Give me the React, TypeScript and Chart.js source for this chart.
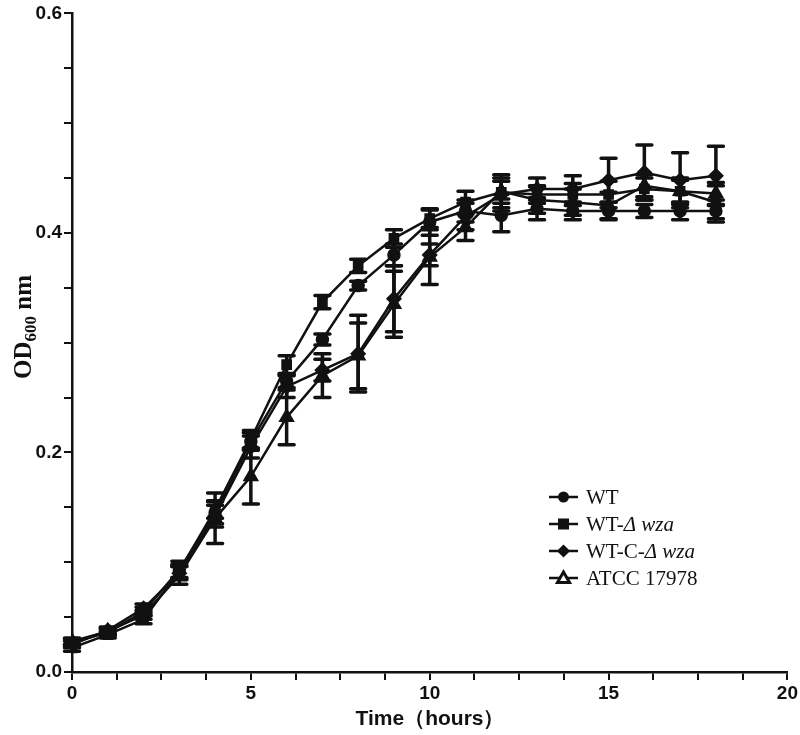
import React, { useEffect, useRef } from "react";
import { Chart, registerables } from "chart.js";

Chart.register(...registerables);

const hours = [0, 1, 2, 3, 4, 5, 6, 7, 8, 9, 10, 11, 12, 13, 14, 15, 16, 17, 18];

const wtValues = [0.027, 0.036, 0.055, 0.093, 0.145, 0.21, 0.265, 0.303, 0.352, 0.38, 0.41, 0.42, 0.416, 0.422, 0.42, 0.42, 0.42, 0.42, 0.42];
const wtErrors = [0.003, 0.003, 0.004, 0.008, 0.01, 0.008, 0.006, 0.005, 0.004, 0.01, 0.012, 0.01, 0.015, 0.01, 0.008, 0.008, 0.006, 0.008, 0.01];

const wzaValues = [0.022, 0.034, 0.048, 0.092, 0.148, 0.212, 0.28, 0.337, 0.37, 0.395, 0.413, 0.428, 0.437, 0.435, 0.435, 0.435, 0.44, 0.438, 0.428];
const wzaErrors = [0.003, 0.003, 0.004, 0.006, 0.008, 0.008, 0.008, 0.006, 0.006, 0.008, 0.008, 0.01, 0.01, 0.008, 0.01, 0.012, 0.01, 0.012, 0.015];

const compValues = [0.025, 0.038, 0.058, 0.09, 0.142, 0.205, 0.26, 0.275, 0.29, 0.34, 0.38, 0.415, 0.435, 0.44, 0.44, 0.448, 0.455, 0.448, 0.452];
const compErrors = [0.003, 0.003, 0.004, 0.006, 0.01, 0.01, 0.01, 0.01, 0.035, 0.03, 0.01, 0.012, 0.015, 0.01, 0.012, 0.02, 0.025, 0.025, 0.027];

const atccValues = [0.028, 0.037, 0.052, 0.088, 0.14, 0.178, 0.232, 0.27, 0.288, 0.335, 0.378, 0.405, 0.438, 0.43, 0.428, 0.425, 0.443, 0.438, 0.436];
const atccErrors = [0.003, 0.003, 0.004, 0.008, 0.023, 0.025, 0.025, 0.02, 0.03, 0.03, 0.025, 0.012, 0.015, 0.012, 0.012, 0.012, 0.01, 0.01, 0.01];

const seriesNames = ["WT", "WT-Δ wza", "WT-C-Δ wza", "ATCC 17978"];
const seriesStyles = ["circle", "rect", "rectRot", "triangle"];

const xTickLabels = [0, 5, 10, 15, 20];
const yTickLabels = [0.0, 0.2, 0.4, 0.6];

const INK = "#111111";
const SANS = "'Liberation Sans Narrow', 'Liberation Sans', Arial, sans-serif";
const SERIF = "'Liberation Serif', 'Times New Roman', serif";

function drawMarker(ctx: CanvasRenderingContext2D, style: string, x: number, y: number, r: number) {
  ctx.save();
  ctx.fillStyle = INK;
  ctx.strokeStyle = INK;
  ctx.lineWidth = 2;
  ctx.beginPath();
  if (style === "circle") {
    ctx.arc(x, y, r, 0, Math.PI * 2);
    ctx.fill();
  } else if (style === "rect") {
    ctx.rect(x - r, y - r, 2 * r, 2 * r);
    ctx.fill();
  } else if (style === "rectRot") {
    ctx.moveTo(x, y - r * 1.2);
    ctx.lineTo(x + r * 1.2, y);
    ctx.lineTo(x, y + r * 1.2);
    ctx.lineTo(x - r * 1.2, y);
    ctx.closePath();
    ctx.fill();
  } else {
    ctx.moveTo(x, y - r * 1.1);
    ctx.lineTo(x + r * 1.1, y + r * 0.8);
    ctx.lineTo(x - r * 1.1, y + r * 0.8);
    ctx.closePath();
    ctx.fillStyle = "#ffffff";
    ctx.fill();
    ctx.lineWidth = 3;
    ctx.stroke();
  }
  ctx.restore();
}

const errorBarPlugin = {
  id: "errorBars",
  beforeDatasetsDraw(chart: any) {
    const ctx = chart.ctx as CanvasRenderingContext2D;
    const xs = chart.scales.x;
    const ys = chart.scales.y;
    const allErr = [wtErrors, wzaErrors, compErrors, atccErrors];
    const allVal = [wtValues, wzaValues, compValues, atccValues];
    ctx.save();
    ctx.strokeStyle = INK;
    ctx.lineWidth = 3.5;
    ctx.lineCap = "round";
    allVal.forEach((vals, si) => {
      vals.forEach((v, i) => {
        const e = allErr[si][i];
        const px = xs.getPixelForValue(hours[i]);
        const top = ys.getPixelForValue(v + e);
        const bot = ys.getPixelForValue(v - e);
        ctx.beginPath();
        ctx.moveTo(px, top);
        ctx.lineTo(px, bot);
        ctx.moveTo(px - 7.5, top);
        ctx.lineTo(px + 7.5, top);
        ctx.moveTo(px - 7.5, bot);
        ctx.lineTo(px + 7.5, bot);
        ctx.stroke();
      });
    });
    ctx.restore();
  },
};

const annotationPlugin = {
  id: "annotations",
  afterDraw(chart: any) {
    const ctx = chart.ctx as CanvasRenderingContext2D;
    ctx.save();
    // Y axis title with subscript
    ctx.translate(22, 327);
    ctx.rotate(-Math.PI / 2);
    ctx.fillStyle = INK;
    ctx.textBaseline = "alphabetic";
    const big = `bold 25px ${SERIF}`;
    const small = `bold 17px ${SERIF}`;
    ctx.font = big;
    const w1 = ctx.measureText("OD").width;
    ctx.font = small;
    const w2 = ctx.measureText("600").width;
    ctx.font = big;
    const w3 = ctx.measureText(" nm").width;
    let x0 = -(w1 + w2 + w3) / 2;
    ctx.font = big;
    ctx.fillText("OD", x0, 9);
    x0 += w1;
    ctx.font = small;
    ctx.fillText("600", x0, 14);
    x0 += w2;
    ctx.font = big;
    ctx.fillText(" nm", x0, 9);
    ctx.restore();

    // X axis title
    ctx.save();
    ctx.fillStyle = INK;
    ctx.font = `bold 21px ${SANS}`;
    ctx.textAlign = "center";
    ctx.textBaseline = "middle";
    ctx.fillText("Time（hours）", 430, 719);
    ctx.restore();

    // Legend
    ctx.save();
    const rows = [497, 524, 551, 578];
    seriesNames.forEach((name, i) => {
      const y = rows[i];
      ctx.strokeStyle = INK;
      ctx.lineWidth = 2.5;
      ctx.beginPath();
      ctx.moveTo(549, y);
      ctx.lineTo(578, y);
      ctx.stroke();
      drawMarker(ctx, seriesStyles[i], 563.5, y, 5.5);
      ctx.fillStyle = INK;
      ctx.textBaseline = "middle";
      ctx.textAlign = "left";
      const idx = name.indexOf("Δ");
      let tx = 586;
      if (idx >= 0) {
        const plain = name.slice(0, idx);
        const ital = name.slice(idx);
        ctx.font = `21px ${SERIF}`;
        ctx.fillText(plain, tx, y + 1);
        tx += ctx.measureText(plain).width;
        ctx.font = `italic 21px ${SERIF}`;
        ctx.fillText(ital, tx, y + 1);
      } else {
        ctx.font = `21px ${SERIF}`;
        ctx.fillText(name, tx, y + 1);
      }
    });
    ctx.restore();
  },
};

export default function App() {
  const canvasRef = useRef<HTMLCanvasElement | null>(null);

  useEffect(() => {
    if (!canvasRef.current) return;
    const allVal = [wtValues, wzaValues, compValues, atccValues];
    const radii = [6, 6.5, 7, 8];
    const datasets = allVal.map((vals, si) => ({
      label: seriesNames[si],
      data: vals.map((v, i) => ({ x: hours[i], y: v })),
      borderColor: INK,
      backgroundColor: INK,
      pointBorderColor: INK,
      pointBackgroundColor: INK,
      borderWidth: 2.5,
      pointStyle: seriesStyles[si] as any,
      pointRadius: radii[si],
      pointBorderWidth: 1.5,
      tension: 0,
      fill: false,
    }));

    const chart = new Chart(canvasRef.current, {
      type: "line",
      data: { datasets },
      plugins: [errorBarPlugin, annotationPlugin],
      options: {
        animation: false,
        responsive: false,
        devicePixelRatio: 1,
        layout: { padding: { top: 9, right: 12, left: 0, bottom: 0 } },
        plugins: { legend: { display: false }, tooltip: { enabled: false } },
        scales: {
          x: {
            type: "linear",
            min: 0,
            max: 20,
            afterFit: (s: any) => {
              s.height = 63;
            },
            afterBuildTicks: (s: any) => {
              const t = [];
              for (let v = 0; v <= 20.0001; v += 1.25) t.push({ value: v });
              s.ticks = t;
            },
            ticks: {
              autoSkip: false,
              maxRotation: 0,
              color: INK,
              padding: 2,
              font: { family: SANS, weight: "bold", size: 19 },
              callback: (v: any) => {
                const n = Number(v);
                return xTickLabels.some((l) => Math.abs(l - n) < 1e-6) ? String(Math.round(n)) : "";
              },
            },
            grid: { drawOnChartArea: false, color: INK, lineWidth: 2, tickLength: 8, tickWidth: 2 },
            border: { color: INK, width: 2.5 },
          },
          y: {
            type: "linear",
            min: 0,
            max: 0.6,
            afterFit: (s: any) => {
              s.width = 72;
            },
            afterBuildTicks: (s: any) => {
              const t = [];
              for (let k = 0; k <= 12; k++) t.push({ value: k * 0.05 });
              s.ticks = t;
            },
            ticks: {
              autoSkip: false,
              color: INK,
              padding: 2,
              font: { family: SANS, weight: "bold", size: 19 },
              callback: (v: any) => {
                const n = Number(v);
                return yTickLabels.some((l) => Math.abs(l - n) < 1e-6) ? n.toFixed(1) : "";
              },
            },
            grid: { drawOnChartArea: false, color: INK, lineWidth: 2, tickLength: 8, tickWidth: 2 },
            border: { color: INK, width: 2.5 },
          },
        },
      },
    });
    return () => chart.destroy();
  }, []);

  return (
    <div style={{ position: "absolute", left: 0, top: 0, width: 800, height: 735, background: "#fff" }}>
      <canvas ref={canvasRef} width={800} height={735} style={{ width: 800, height: 735 }} />
    </div>
  );
}
